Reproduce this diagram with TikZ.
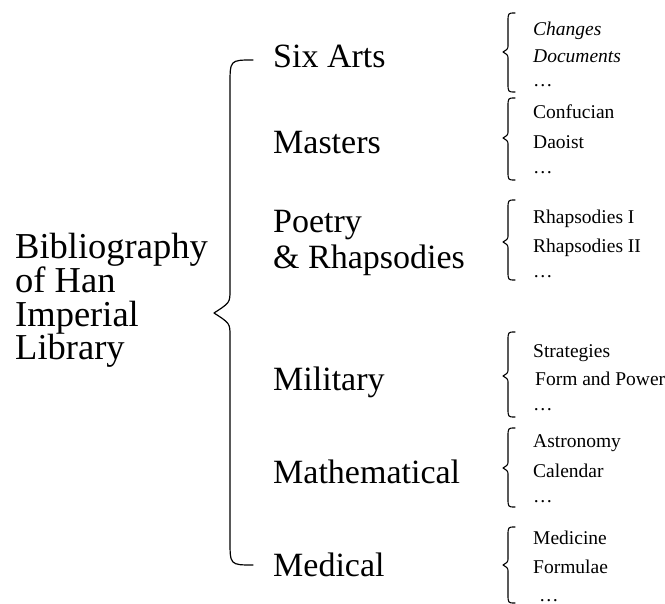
\documentclass[tikz,border=0pt]{standalone}
\usepackage{fontspec}
\setmainfont{Liberation Serif}
% curly brace opening to the right:
% #1 tip x, #2 stem x, #3 cusp x, #4 top y, #5 cusp y, #6 bottom y, #7 hook length, #8 cusp length
\newcommand{\curlybrace}[8]{%
  \draw[bracepen] (#1,#4) .. controls (#2,#4) .. (#2,{#4+#7})
    -- (#2,{#5-#8}) .. controls (#2,{#5-0.45*#8}) .. (#3,#5)
    .. controls (#2,{#5+0.45*#8}) .. (#2,{#5+#8})
    -- (#2,{#6-#7}) .. controls (#2,#6) .. (#1,#6);}
\begin{document}
\begin{tikzpicture}[x=1pt,y=-1pt,
  title/.style={anchor=base west, inner sep=0pt, align=left, font=\fontsize{36.5}{33.5}\selectfont},
  branch/.style={anchor=base west, inner sep=0pt, align=left, font=\fontsize{34}{36}\selectfont},
  leaf/.style={anchor=base west, inner sep=0pt, font=\fontsize{19.5}{23}\selectfont},
  bracepen/.style={line width=1.2pt, line join=round, line cap=round}]
\useasboundingbox (0,0) rectangle (665,604);

% root (anchored on the baseline of its last line)
\node[title] (root) at (15,360) {Bibliography\\of Han\\Imperial\\Library};

% main brace
\curlybrace{253}{230}{214}{60}{313}{565}{25}{23}

% six branches
\node[branch] (sixarts) at (273,68) {Six Arts};
\node[branch] (masters) at (273,154) {Masters};
\node[branch] (poetry) at (273,269) {Poetry\\\& Rhapsodies};
\node[branch] (military) at (273,391) {Military};
\node[branch] (math) at (273,484) {Mathematical};
\node[branch] (medical) at (273,576) {Medical};

% sub-braces
\tikzset{bracepen/.style={line width=1.1pt, line join=round, line cap=round}}
\curlybrace{515}{508}{503}{13}{52}{92}{9}{7}
\curlybrace{515}{508}{503}{98}{138}{180}{9}{7}
\curlybrace{515}{508}{503}{200}{242}{280}{9}{7}
\curlybrace{515}{508}{503}{332}{376}{417}{9}{7}
\curlybrace{515}{508}{503}{428}{468}{507}{9}{7}
\curlybrace{515}{508}{503}{527}{565}{603}{9}{7}

% leaves
\node[leaf] (changes) at (533,36) {\itshape Changes};
\node[leaf] (documents) at (533,63) {\itshape Documents};
\node[leaf] (sixmore) at (533,87) {\dots};
\node[leaf] (confucian) at (533,119) {Confucian};
\node[leaf] (daoist) at (533,149) {Daoist};
\node[leaf] (mastersmore) at (533,174) {\dots};
\node[leaf] (rhapI) at (533,224) {Rhapsodies I};
\node[leaf] (rhapII) at (533,253) {Rhapsodies II};
\node[leaf] (poetrymore) at (533,278) {\dots};
\node[leaf] (strategies) at (533,358) {Strategies};
\node[leaf] (formpower) at (535,386) {Form and Power};
\node[leaf] (militarymore) at (533,411) {\dots};
\node[leaf] (astronomy) at (533,448) {Astronomy};
\node[leaf] (calendar) at (533,478) {Calendar};
\node[leaf] (mathmore) at (533,503) {\dots};
\node[leaf] (medicine) at (533,544) {Medicine};
\node[leaf] (formulae) at (533,573) {Formulae};
\node[leaf] (medicalmore) at (539,601) {\dots};
\end{tikzpicture}
\end{document}
